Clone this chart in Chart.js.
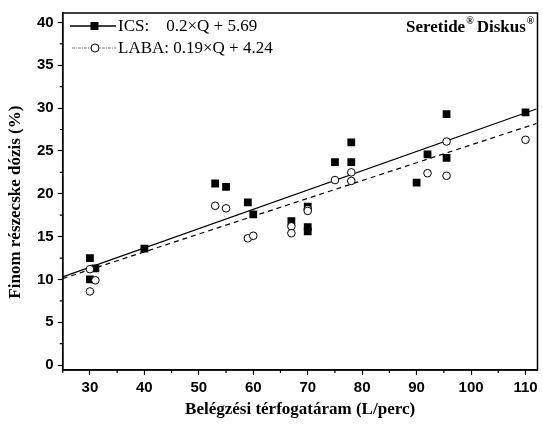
<!DOCTYPE html>
<html>
<head>
<meta charset="utf-8">
<script src="https://cdn.jsdelivr.net/npm/chart.js@4"></script>
<style>
  html, body { margin: 0; padding: 0; background: #fff; }
  #wrap { width: 543px; height: 431px; }
</style>
</head>
<body>
<div id="wrap"><canvas id="chart" width="543" height="431"></canvas></div>
<script>
// measured points (flow L/perc, fine particle dose %)
const icsFlow = [30, 30, 31, 40, 53, 55, 59, 60, 67, 70, 70, 70, 75, 78, 78, 90, 92, 95.5, 95.5, 110];
const icsDose = [12.5, 10.0, 11.3, 13.6, 21.2, 20.8, 19.0, 17.6, 16.8, 18.5, 16.1, 15.6, 23.7, 26.0, 23.7, 21.3, 24.6, 29.3, 24.2, 29.5];
const labaFlow = [30, 30, 31, 53, 55, 59, 60, 67, 67, 70, 70, 75, 78, 78, 92, 95.5, 95.5, 110];
const labaDose = [11.2, 8.6, 9.9, 18.6, 18.3, 14.8, 15.1, 16.2, 15.4, 18.2, 18.0, 21.6, 22.5, 21.5, 22.4, 26.1, 22.1, 26.3];

// fitted lines as drawn, read at the plot edges
const fitFlow = [25, 112];
const icsFit = [10.3, 29.9];
const labaFit = [10.1, 28.2];

const xTicks = [30, 40, 50, 60, 70, 80, 90, 100, 110];
const yTicks = [0, 5, 10, 15, 20, 25, 30, 35, 40];
const legendLabels = ['ICS:    0.2\u00d7Q + 5.69', 'LABA: 0.19\u00d7Q + 4.24'];

const toPts = (xs, ys) => xs.map((x, i) => ({ x: x, y: ys[i] }));

const tickFont = { family: '"Liberation Sans", Arial', size: 15, weight: 'bold' };
const serifBold = '"Liberation Serif", "Times New Roman"';

// frame, minor ticks, legend and label
const extras = {
  id: 'extras',
  afterDraw(chart) {
    const c = chart.ctx;
    const a = chart.chartArea;
    const xs = chart.scales.x, ys = chart.scales.y;
    c.save();
    c.strokeStyle = '#000';
    c.lineWidth = 1.5;
    c.strokeRect(a.left, a.top, a.right - a.left, a.bottom - a.top);
    // minor ticks
    c.lineWidth = 1.2;
    c.beginPath();
    for (let v = 25; v <= 110; v += 10) {
      const px = xs.getPixelForValue(v);
      c.moveTo(px, a.bottom); c.lineTo(px, a.bottom + 3);
    }
    for (let v = 2.5; v <= 40; v += 5) {
      const py = ys.getPixelForValue(v);
      c.moveTo(a.left, py); c.lineTo(a.left - 3, py);
    }
    c.stroke();

    // legend
    c.font = '17px ' + serifBold;
    c.fillStyle = '#000';
    c.textBaseline = 'middle';
    // ICS entry
    let y = 26;
    c.lineWidth = 1.3;
    c.setLineDash([]);
    c.beginPath(); c.moveTo(70, y); c.lineTo(116, y); c.stroke();
    c.fillRect(90.5, y - 4, 8, 8);
    c.fillText(legendLabels[0], 118, y + 1);
    // LABA entry
    y = 48;
    c.strokeStyle = '#555';
    c.lineWidth = 0.8;
    c.setLineDash([3, 1, 1, 1]);
    c.beginPath(); c.moveTo(72, y); c.lineTo(116, y); c.stroke();
    c.setLineDash([]);
    c.strokeStyle = '#000';
    c.lineWidth = 1;
    c.fillStyle = '#fff';
    c.beginPath(); c.arc(95, y, 4, 0, Math.PI * 2); c.fill(); c.stroke();
    c.fillStyle = '#000';
    c.fillText(legendLabels[1], 118, y + 1);

    // product label
    c.font = 'bold 17px ' + serifBold;
    let tx = 406;
    c.fillText('Seretide', tx, 28);
    tx += c.measureText('Seretide').width;
    c.font = 'bold 10px ' + serifBold;
    c.fillText('\u00ae', tx + 1, 21);
    tx += c.measureText('\u00ae').width + 4;
    c.font = 'bold 17px ' + serifBold;
    c.fillText('Diskus', tx, 28);
    tx += c.measureText('Diskus').width;
    c.font = 'bold 10px ' + serifBold;
    c.fillText('\u00ae', tx + 1, 21);
    c.restore();
  }
};

new Chart(document.getElementById('chart').getContext('2d'), {
  type: 'scatter',
  data: {
    datasets: [
      {
        label: 'LABA',
        data: toPts(labaFlow, labaDose),
        pointStyle: 'circle',
        pointRadius: 3.8,
        pointBorderWidth: 1,
        borderColor: '#000',
        backgroundColor: '#fff',
        order: 0
      },
      {
        label: 'ICS',
        data: toPts(icsFlow, icsDose),
        pointStyle: 'rect',
        pointRadius: 5.5,
        pointBorderWidth: 0,
        borderColor: '#000',
        backgroundColor: '#000',
        order: 1
      },
      {
        label: 'ICS fit',
        type: 'line',
        data: toPts(fitFlow, icsFit),
        borderColor: '#000',
        borderWidth: 1.2,
        pointRadius: 0,
        order: 2
      },
      {
        label: 'LABA fit',
        type: 'line',
        data: toPts(fitFlow, labaFit),
        borderColor: '#000',
        borderWidth: 1.2,
        borderDash: [5, 4],
        pointRadius: 0,
        order: 3
      }
    ]
  },
  options: {
    responsive: false,
    animation: false,
    layout: { padding: { top: 6, right: 3, left: 0, bottom: 0 } },
    plugins: { legend: { display: false }, tooltip: { enabled: false } },
    scales: {
      x: {
        type: 'linear',
        min: 25,
        max: 112.2,
        afterBuildTicks: s => { s.ticks = xTicks.map(v => ({ value: v })); },
        afterFit: s => { s.height = 61; },
        grid: { drawOnChartArea: false, drawTicks: true, tickLength: 5, tickWidth: 1.2, color: '#000' },
        border: { display: true, color: '#000', width: 1.5 },
        ticks: { color: '#000', font: tickFont, padding: 4, maxRotation: 0 },
        title: {
          display: true,
          text: 'Belégzési térfogatáram (L/perc)',
          color: '#000',
          font: { family: serifBold, size: 17, weight: 'bold' },
          padding: { top: 2, bottom: 11 }
        }
      },
      y: {
        type: 'linear',
        min: -0.57,
        max: 41.1,
        afterBuildTicks: s => { s.ticks = yTicks.map(v => ({ value: v })); },
        afterFit: s => { s.width = 62.7; },
        grid: { drawOnChartArea: false, drawTicks: true, tickLength: 5, tickWidth: 1.2, color: '#000' },
        border: { display: true, color: '#000', width: 1.5 },
        ticks: { color: '#000', font: tickFont, padding: 4 },
        title: {
          display: true,
          text: 'Finom részecske dózis (%)\u00a0\u00a0\u00a0\u00a0\u00a0',
          color: '#000',
          font: { family: serifBold, size: 17, weight: 'bold' },
          padding: { bottom: 0, top: 5 }
        }
      }
    }
  },
  plugins: [extras]
});
</script>
</body>
</html>
